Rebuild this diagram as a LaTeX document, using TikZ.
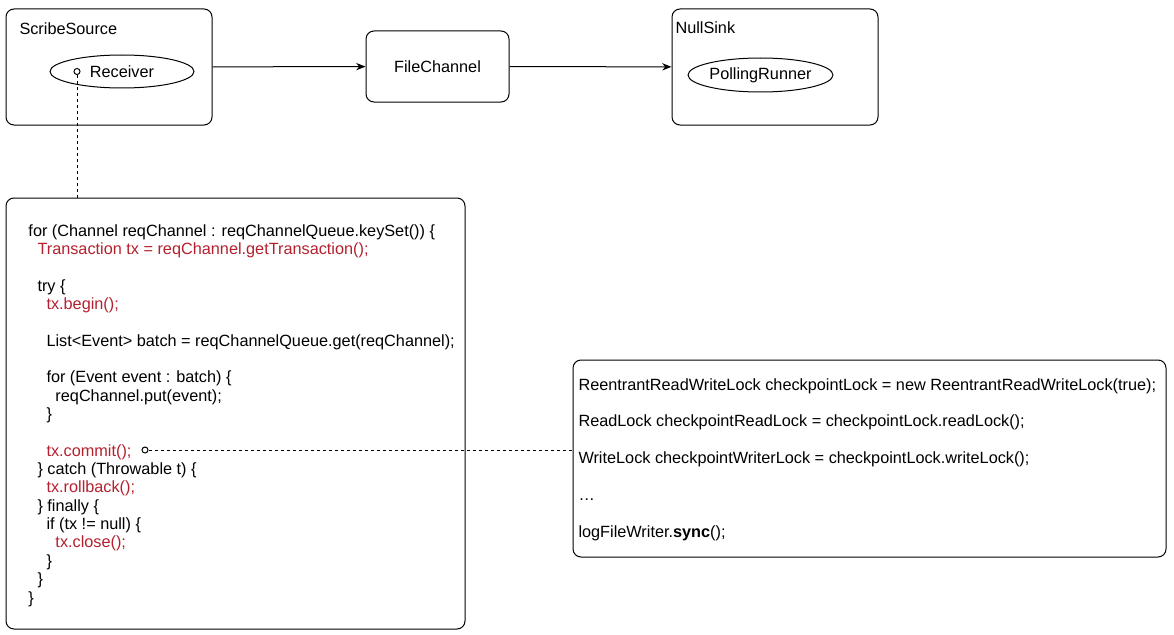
\documentclass[tikz,border=0pt]{standalone}
\usepackage{fontspec}
\setmainfont{Liberation Sans}
\usetikzlibrary{shapes.geometric,arrows.meta}
\definecolor{codered}{RGB}{180,32,46}
\newcommand{\tabin}[1]{\hspace*{#1pt}}
\newcommand{\rd}[1]{\textcolor{codered}{#1}}

\begin{document}
\begin{tikzpicture}[x=0.75pt,y=-0.75pt,line width=0.75pt,
  font=\fontsize{12.2}{13.76}\selectfont,
  box/.style={rectangle,rounded corners=6pt,draw=black},
  oval/.style={ellipse,draw=black,inner sep=0pt},
  lbl/.style={anchor=west,inner sep=0pt},
  port/.style={circle,draw=black,fill=white,inner sep=0pt,minimum size=4.5pt},
  link/.style={dash pattern=on 2.25pt off 2.25pt}]
\useasboundingbox (0,0) rectangle (1174,635);

\node[box,minimum width=154.5pt,minimum height=87pt] (src) at (109,67){};
\node[lbl] (srcl) at (19,29){ScribeSource};
\node[oval,minimum width=108pt,minimum height=24.75pt] (rcv) at (122,71.5){Receiver};

\node[box,minimum width=107.25pt,minimum height=53.25pt] (fc) at (437.5,66.5){FileChannel};

\node[box,minimum width=154.5pt,minimum height=87pt] (sink) at (775,67){};
\node[lbl] (sinkl) at (675,28){NullSink};
\node[oval,minimum width=108.75pt,minimum height=25.5pt] (pr) at (760.5,75){PollingRunner};

\node[box,minimum width=344.25pt,minimum height=323.25pt] (code) at (235.5,413.5){};
% base of a multi-line node sits on its last line
\node[lbl,anchor=base west,align=left] (codet) at (28,603){%
for (Channel reqChannel : reqChannelQueue.keySet()) \{\\
\tabin{6.75}\rd{Transaction tx = reqChannel.getTransaction();}\\
\\
\tabin{6.75}try \{\\
\tabin{13.5}\rd{tx.begin();}\\
\\
\tabin{13.5}List<Event> batch = reqChannelQueue.get(reqChannel);\\
\\
\tabin{13.5}for (Event event : batch) \{\\
\tabin{20.25}reqChannel.put(event);\\
\tabin{13.5}\}\\
\\
\tabin{13.5}\rd{tx.commit();}\\
\tabin{6.75}\} catch (Throwable t) \{\\
\tabin{13.5}\rd{tx.rollback();}\\
\tabin{6.75}\} finally \{\\
\tabin{13.5}if (tx != null) \{\\
\tabin{20.25}\rd{tx.close();}\\
\tabin{13.5}\}\\
\tabin{6.75}\}\\
\}};

\node[box,minimum width=444.75pt,minimum height=147.75pt] (lock) at (869.5,458.5){};
\node[lbl,anchor=base west,align=left] (lockt) at (578,537){%
ReentrantReadWriteLock checkpointLock = new ReentrantReadWriteLock(true);\\
\\
ReadLock checkpointReadLock = checkpointLock.readLock();\\
\\
WriteLock checkpointWriterLock = checkpointLock.writeLock();\\
\\
…\\
\\
logFileWriter.\textbf{sync}();};

\node[port] (p1) at (77,71.5){};
\node[port] (p2) at (145,450){};

\path [-{Stealth[length=7pt,width=5.5pt]}] (src) edge (fc);
\path [-{Stealth[length=7pt,width=5.5pt]}] (fc) edge (sink);
%%%%%%%%
\path [link] (p1) edge (p1 |- code.north);
\path [link] (p2) edge (p2 -| lock.west);

\end{tikzpicture}
\end{document}
